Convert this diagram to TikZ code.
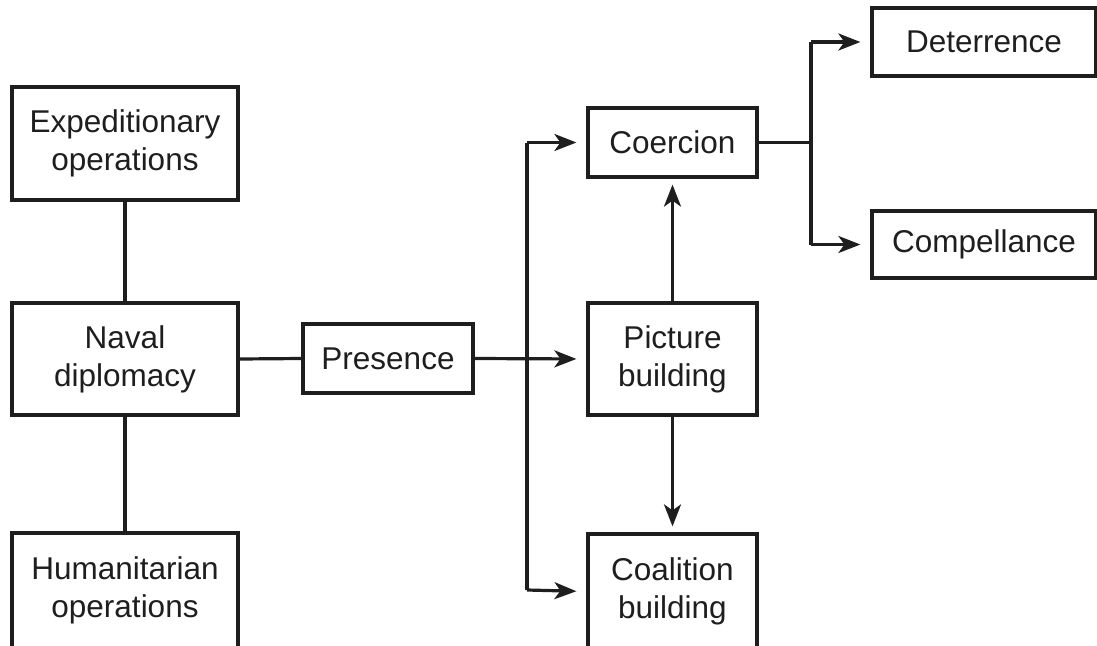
\documentclass[tikz,border=0pt]{standalone}
\usepackage{fontspec}
\setmainfont{Liberation Sans}
\usetikzlibrary{arrows.meta}
\definecolor{ink}{HTML}{1E1E1E}
\tikzset{
  box/.style={draw=ink, line width=3.2pt, rectangle, align=center, inner sep=0pt,
    text=ink, font=\fontsize{31.5}{38}\selectfont},
  link/.style={draw=ink, line width=3.2pt},
  arr/.style={link, -{Stealth[length=22pt,width=17pt,inset=6pt]}, shorten >=10pt},
}
\begin{document}
\begin{tikzpicture}[x=1pt,y=-1pt]
\useasboundingbox (0,0) rectangle (1097,645);
\clip (0,0) rectangle (1097,645);
\node[box, minimum width=226pt, minimum height=113pt] (exp) at (125,143.5) {Expeditionary\\operations};
\node[box, minimum width=226pt, minimum height=112pt] (nav) at (125,359) {Naval\\diplomacy};
\node[box, minimum width=226pt, minimum height=115pt] (hum) at (125,590.5) {Humanitarian\\operations};
\node[box, minimum width=170pt, minimum height=69pt] (pres) at (388,358.5) {Presence};
\node[box, minimum width=169pt, minimum height=69pt] (coe) at (672.5,142.5) {Coercion};
\node[box, minimum width=169pt, minimum height=112pt] (pic) at (672.5,359) {Picture\\building};
\node[box, minimum width=169pt, minimum height=115pt] (coa) at (672.5,591.5) {Coalition\\building};
\node[box, minimum width=224pt, minimum height=68pt] (det) at (984,42) {Deterrence};
\node[box, minimum width=224pt, minimum height=67pt] (com) at (984,244.5) {Compellance};

\draw[link] (exp.south) -- (nav.north);
\draw[link] (nav.south) -- (hum.north);
\draw[link] (nav.east) -- (pres.west);

\coordinate (jt) at (527,142.5);
\coordinate (jb) at (527,590);
\draw[link] (jt) -- (jb);
\draw[arr] (pres.east) -- (pic.west);
\draw[arr] (jt) -- (coe.west);
\draw[arr] (jb) -- (coa.west);
\draw[arr, shorten >=6pt] (pic.north) -- (coe.south);
\draw[arr, shorten >=6pt] (pic.south) -- (coa.north);

\coordinate (bt) at (811,42);
\coordinate (bb) at (811,244.5);
\coordinate (bm) at (811,142.5);
\draw[link] (coe.east) -- (bm);
\draw[link] (bt) -- (bb);
\draw[arr] (bt) -- (det.west);
\draw[arr] (bb) -- (com.west);
\end{tikzpicture}
\end{document}
